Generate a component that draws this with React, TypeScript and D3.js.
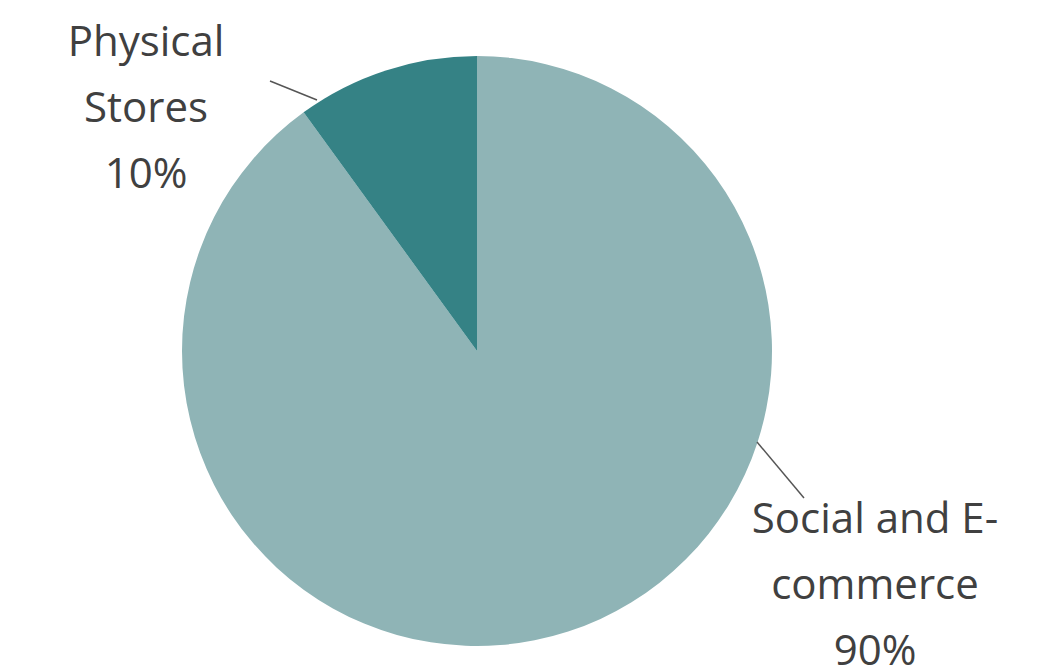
import React from "react";
import * as d3 from "d3";

const categories = ["Social and E-commerce", "Physical Stores"];
const values = [90, 10];
const colors = ["#8fb4b6", "#358285"];
const labelLines = [["Social and E-", "commerce", "90%"], ["Physical", "Stores", "10%"]];

const W = 1046, H = 667;
const cx = 477, cy = 351, R = 295;

export default function App() {
  const pie = d3.pie<number>().sort(null).value(d => d);
  const arcs = pie(values);
  const arcGen = d3.arc<d3.PieArcDatum<number>>().innerRadius(0).outerRadius(R);
  const labelPos = [
    { x: 875, y0: 533, lineStart: [757, 442], lineEnd: [804, 498] },
    { x: 146, y0: 56, lineStart: [317, 100], lineEnd: [270, 81] },
  ];
  const lh = 66;
  return (
    <svg width={W} height={H} style={{ position: "absolute", left: 0, top: 0 }}>
      <g transform={`translate(${cx},${cy})`}>
        {arcs.map((a, i) => (
          <path key={categories[i]} d={arcGen(a) || ""} fill={colors[i]} />
        ))}
      </g>
      {labelPos.map((p, i) => (
        <g key={i}>
          <line x1={p.lineStart[0]} y1={p.lineStart[1]} x2={p.lineEnd[0]} y2={p.lineEnd[1]} stroke="#555" strokeWidth={1.5} />
          <text textAnchor="middle" fontFamily="'Open Sans', sans-serif" fontSize={42} fill="#404040">
            {labelLines[i].map((t, j) => (
              <tspan key={j} x={p.x} y={p.y0 + j * lh}>{t}</tspan>
            ))}
          </text>
        </g>
      ))}
    </svg>
  );
}
